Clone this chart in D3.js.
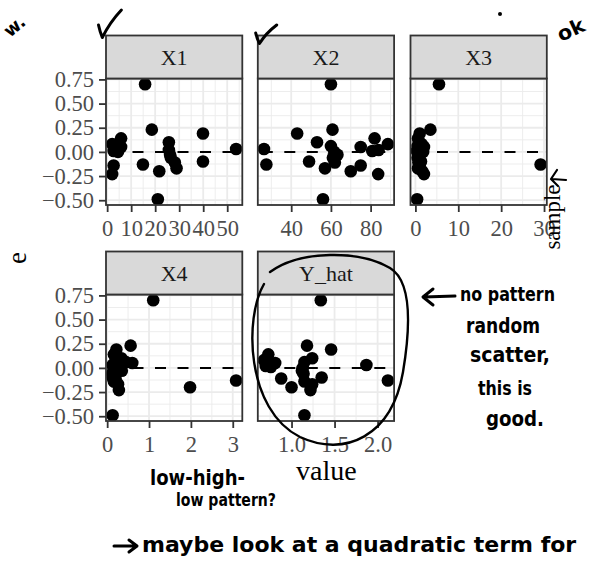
<!DOCTYPE html>
<html>
<head>
<meta charset="utf-8">
<script src="https://cdn.jsdelivr.net/npm/d3@7"></script>
<style>
  html, body { margin: 0; padding: 0; background: #fff; }
  svg { display: block; }
</style>
</head>
<body>
<script>
// Residuals (e) against each predictor and the fitted values
const e      = [0.70, 0.23, 0.19, 0.14, 0.10, 0.08, 0.06, 0.05, 0.03, 0.02, 0.01, 0.00, -0.03, -0.06, -0.10, -0.11, -0.13, -0.14, -0.17, -0.20, -0.23, -0.49];
const X1     = [15.8, 18.6, 39.9, 5.8, 25.7, 2.1, 3.4, 5.8, 53.7, 25.7, 2.7, 4.5, 26.2, 26.5, 39.9, 28.2, 14.9, 2.7, 28.9, 21.7, 2.1, 21.1];
const X2     = [60, 60.8, 43, 82, 53, 88.7, 60, 75, 26.3, 84, 80.8, 61.7, 63.3, 61, 49, 62, 27.5, 75, 57, 70, 83.8, 56];
const X3     = [5.5, 3.5, 1.0, 0.6, 0.8, 1.5, 0.5, 2.0, 1.2, 0.7, 0.3, 1.8, 0.9, 0.5, 1.3, 0.7, 29.2, 1.0, 0.6, 1.6, 2.0, 0.4];
const X4     = [1.1, 0.56, 0.22, 0.16, 0.34, 0.2, 0.45, 0.6, 0.13, 0.25, 0.3, 0.15, 0.35, 0.12, 0.13, 0.2, 3.08, 0.16, 0.26, 1.98, 0.28, 0.13];
const Y_hat  = [1.34, 1.18, 1.46, 0.73, 1.24, 0.68, 1.15, 0.81, 1.87, 0.70, 0.76, 1.13, 1.12, 1.14, 1.35, 0.88, 2.12, 1.15, 1.24, 1.0, 1.22, 1.15];

const facetNames = ["X1", "X2", "X3", "X4", "Y_hat"];
const ticksX1 = [0, 10, 20, 30, 40, 50];
const ticksX2 = [40, 60, 80];
const ticksX3 = [0, 10, 20, 30];
const ticksX4 = [0, 1, 2, 3];
const ticksYhat = [1.0, 1.5, 2.0];
const ticksE = [-0.50, -0.25, 0.00, 0.25, 0.50, 0.75];

const facets = [
  { name: facetNames[0], x: X1,    ticks: ticksX1,   fmt: d3.format("d") },
  { name: facetNames[1], x: X2,    ticks: ticksX2,   fmt: d3.format("d") },
  { name: facetNames[2], x: X3,    ticks: ticksX3,   fmt: d3.format("d") },
  { name: facetNames[3], x: X4,    ticks: ticksX4,   fmt: d3.format("d") },
  { name: facetNames[4], x: Y_hat, ticks: ticksYhat, fmt: d3.format(".1f") }
];

// layout
const W = 595, H = 580;
const colLeft = [106, 257.8, 410.5];
const pw = 136.3;
const rowTop = [78.5, 294.5];
const ph = 126.5;
const stripH = 43;
const serif = "'Liberation Serif', 'Times New Roman', serif";
const hand = "'DejaVu Sans', sans-serif";
const tickFont = 22.5;

const expand = ([a, b]) => [a - 0.05 * (b - a), b + 0.05 * (b - a)];
const minorOf = (ticks, dom) => {
  const step = ticks[1] - ticks[0];
  const out = [];
  for (let i = -1; i < ticks.length; i++) {
    const m = ticks[0] + (i + 0.5) * step;
    if (m >= dom[0] && m <= dom[1]) out.push(m);
  }
  return out;
};

const svg = d3.select("body").append("svg")
  .attr("width", W).attr("height", H)
  .attr("viewBox", `0 0 ${W} ${H}`);
svg.append("rect").attr("width", W).attr("height", H).attr("fill", "#fff");

const defs = svg.append("defs");

facets.forEach((f, i) => {
  const row = Math.floor(i / 3), col = i % 3;
  const left = colLeft[col], top = rowTop[row];
  const xDom = expand(d3.extent(f.x));
  const yDom = expand(d3.extent(e));
  const x = d3.scaleLinear().domain(xDom).range([left, left + pw]);
  const y = d3.scaleLinear().domain(yDom).range([top + ph, top]);

  const clipId = "clip" + i;
  defs.append("clipPath").attr("id", clipId)
    .append("rect").attr("x", left).attr("y", top).attr("width", pw).attr("height", ph);

  const g = svg.append("g");
  const body = g.append("g").attr("clip-path", `url(#${clipId})`);
  body.append("rect").attr("x", left).attr("y", top).attr("width", pw).attr("height", ph).attr("fill", "#fff");

  // minor grid
  const yMinor = minorOf(ticksE, yDom);
  const xMinor = minorOf(f.ticks, xDom);
  body.selectAll(".ymin").data(yMinor).join("line")
    .attr("x1", left).attr("x2", left + pw).attr("y1", d => y(d)).attr("y2", d => y(d))
    .attr("stroke", "#EBEBEB").attr("stroke-width", 0.9);
  body.selectAll(".xmin").data(xMinor).join("line")
    .attr("y1", top).attr("y2", top + ph).attr("x1", d => x(d)).attr("x2", d => x(d))
    .attr("stroke", "#EBEBEB").attr("stroke-width", 0.9);
  // major grid
  body.selectAll(".ymaj").data(ticksE).join("line")
    .attr("x1", left).attr("x2", left + pw).attr("y1", d => y(d)).attr("y2", d => y(d))
    .attr("stroke", "#EBEBEB").attr("stroke-width", 1.8);
  body.selectAll(".xmaj").data(f.ticks.filter(t => t >= xDom[0] && t <= xDom[1])).join("line")
    .attr("y1", top).attr("y2", top + ph).attr("x1", d => x(d)).attr("x2", d => x(d))
    .attr("stroke", "#EBEBEB").attr("stroke-width", 1.8);

  // zero reference line
  body.append("line")
    .attr("x1", left).attr("x2", left + pw).attr("y1", y(0)).attr("y2", y(0))
    .attr("stroke", "#000").attr("stroke-width", 2)
    .attr("stroke-dasharray", "11,11.5").attr("stroke-dashoffset", -4);

  // points
  body.selectAll("circle").data(f.x.map((v, k) => [v, e[k]])).join("circle")
    .attr("cx", d => x(d[0])).attr("cy", d => y(d[1])).attr("r", 6.3)
    .attr("fill", "#000");

  // panel border
  g.append("rect").attr("x", left).attr("y", top).attr("width", pw).attr("height", ph)
    .attr("fill", "none").attr("stroke", "#333333").attr("stroke-width", 1.8);

  // strip
  g.append("rect").attr("x", left).attr("y", top - stripH).attr("width", pw).attr("height", stripH)
    .attr("fill", "#D9D9D9").attr("stroke", "#333333").attr("stroke-width", 1.8);
  g.append("text").attr("x", left + pw / 2).attr("y", top - stripH / 2 + 7.5)
    .attr("text-anchor", "middle").style("font-family", serif).style("font-size", "22px")
    .attr("fill", "#1A1A1A").text(f.name);

  // x axis
  const xa = g.append("g").attr("transform", `translate(0,${top + ph})`)
    .call(d3.axisBottom(x).tickValues(f.ticks).tickFormat(f.fmt).tickSize(7).tickPadding(8));
  xa.select(".domain").remove();
  xa.selectAll(".tick line").attr("stroke", "#333333").attr("stroke-width", 1.8);
  xa.selectAll(".tick text").style("font-family", serif).style("font-size", tickFont + "px").attr("fill", "#4D4D4D");

  // y axis on the first column only
  if (col === 0) {
    const ya = g.append("g").attr("transform", `translate(${left},0)`)
      .call(d3.axisLeft(y).tickValues(ticksE).tickFormat(d3.format(".2f")).tickSize(7).tickPadding(5));
    ya.select(".domain").remove();
    ya.selectAll(".tick line").attr("stroke", "#333333").attr("stroke-width", 1.8);
    ya.selectAll(".tick text").style("font-family", serif).style("font-size", tickFont + "px").attr("fill", "#4D4D4D");
  }
});

// axis titles
svg.append("text").attr("x", 326.4).attr("y", 480).attr("text-anchor", "middle")
  .style("font-family", serif).style("font-size", "28px").attr("fill", "#000").text("value");
svg.append("text").attr("transform", "translate(26,258) rotate(-90)").attr("text-anchor", "middle")
  .style("font-family", serif).style("font-size", "27px").attr("fill", "#000").text("e");
svg.append("text").attr("transform", "translate(560,217) rotate(-90)").attr("text-anchor", "middle")
  .style("font-family", serif).style("font-size", "23px").attr("fill", "#000").text("sample");

// hand-written notes
const ink = svg.append("g").attr("fill", "none").attr("stroke", "#000")
  .attr("stroke-width", 3).attr("stroke-linecap", "round").attr("stroke-linejoin", "round");
ink.append("path").attr("d", "M98.5,25 Q100,32 102.3,37.5 Q110,22 121.4,10");
ink.append("path").attr("d", "M255.7,33 Q257,39 259.5,43.5 Q266,33 276.7,25");
ink.append("path").attr("stroke-width", 2.4)
  .attr("d", "M264,284 C244,318 246,410 300,437 C345,458 392,436 403,372 C412,318 410,280 390,268 C360,250 300,250 270,272");
ink.append("path").attr("d", "M455,296 L424,297 M433,289 L423,297 L433,305");
ink.append("path").attr("stroke-width", 2.2).attr("d", "M566,180 L552,179 M557,170 L551,179 L558,186");
ink.append("path").attr("d", "M114,546 L136,546 M129,540 L137,546 L129,552");
svg.append("circle").attr("cx", 500).attr("cy", 14).attr("r", 2).attr("fill", "#000");

const note = (txt, xx, yy, size, len, rot) => {
  const t = svg.append("text").attr("x", xx).attr("y", yy)
    .style("font-family", hand).style("font-weight", "bold").style("font-size", size + "px")
    .attr("fill", "#000").text(txt);
  if (len) t.attr("textLength", len).attr("lengthAdjust", "spacingAndGlyphs");
  if (rot) t.attr("transform", `rotate(${rot},${xx},${yy})`);
};
note("ok", 561, 42, 20, 28, -25);
note("w.", 10, 38, 18, 22, -40);
note("no pattern", 460, 301, 19, 95);
note("random", 466, 333, 21, 74);
note("scatter,", 470, 362, 21, 80);
note("this is", 478, 395, 20, 54);
note("good.", 486, 426, 21, 58);
note("low-high-", 150, 485, 22, 95);
note("low pattern?", 176, 506, 18, 100);
note("maybe look at a quadratic term for", 142, 552, 22);
</script>
</body>
</html>
